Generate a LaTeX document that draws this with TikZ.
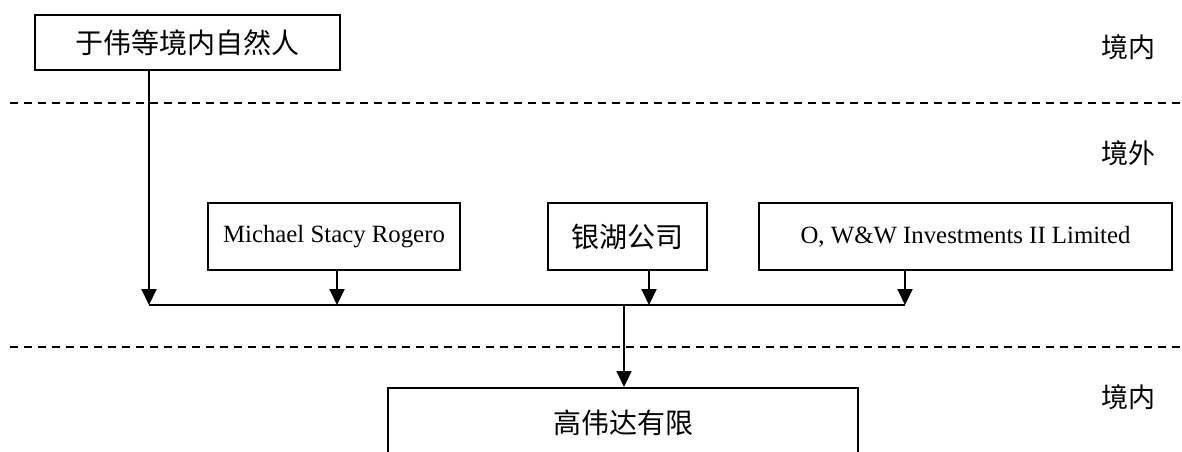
\documentclass[tikz,border=0pt]{standalone}
\usepackage{fontspec}
\setmainfont{Liberation Serif}
\newfontfamily\cjk{Noto Sans CJK SC}
\usetikzlibrary{arrows.meta}
\begin{document}
\begin{tikzpicture}[x=0.5pt, y=-0.5pt,
        entity/.style={rectangle, draw, line width=0.75pt, inner sep=0pt, font=\fontsize{12.4}{14}\selectfont},
        cjkentity/.style={entity, font=\fontsize{14}{16}\selectfont\cjk},
        region/.style={font=\fontsize{13.5}{15}\selectfont\cjk},
        border/.style={dashed, dash pattern=on 4pt off 3pt, line width=0.7pt},
        flow/.style={line width=1pt, -{Triangle[length=8pt, width=7.5pt]}}]
        \clip (0, 0) rectangle (1182, 451);

        \node[style=cjkentity, minimum width=152.5pt, minimum height=27.5pt] (dom) at (187.5, 42.5) {于伟等境内自然人};
        \node[style=entity, minimum width=126pt, minimum height=33.5pt] (msr) at (334, 236.5) {Michael Stacy Rogero};
        \node[style=cjkentity, minimum width=79.5pt, minimum height=33.5pt] (yh) at (627.5, 236.5) {银湖公司};
        \node[style=entity, minimum width=206.5pt, minimum height=33.5pt] (oww) at (965.5, 236.5) {O, W\&W Investments II Limited};
        \node[style=cjkentity, minimum width=235pt, minimum height=35pt, anchor=north] (gwd) at (623, 387) {高伟达有限};

        \node[style=region] (in1) at (1128, 47) {境内};
        \node[style=region] (out) at (1128, 153) {境外};
        \node[style=region] (in2) at (1128, 397) {境内};

        \draw[style=border] (10, 103) -- (1182, 103);
        \draw[style=border] (10, 347) -- (1182, 347);

        \coordinate (b1) at (149, 305);
        \coordinate (b2) at (337, 305);
        \coordinate (b3) at (649, 305);
        \coordinate (b4) at (905, 305);
        \coordinate (hub) at (624, 305);

        \draw[style=flow] (b1 |- dom.south) -- (b1);
        \draw[style=flow] (b2 |- msr.south) -- (b2);
        \draw[style=flow] (b3 |- yh.south) -- (b3);
        \draw[style=flow] (b4 |- oww.south) -- (b4);
        \draw[line width=1pt] (b1) -- (b4);
        \draw[style=flow] (hub) -- (hub |- gwd.north);
    \end{tikzpicture}
\end{document}
